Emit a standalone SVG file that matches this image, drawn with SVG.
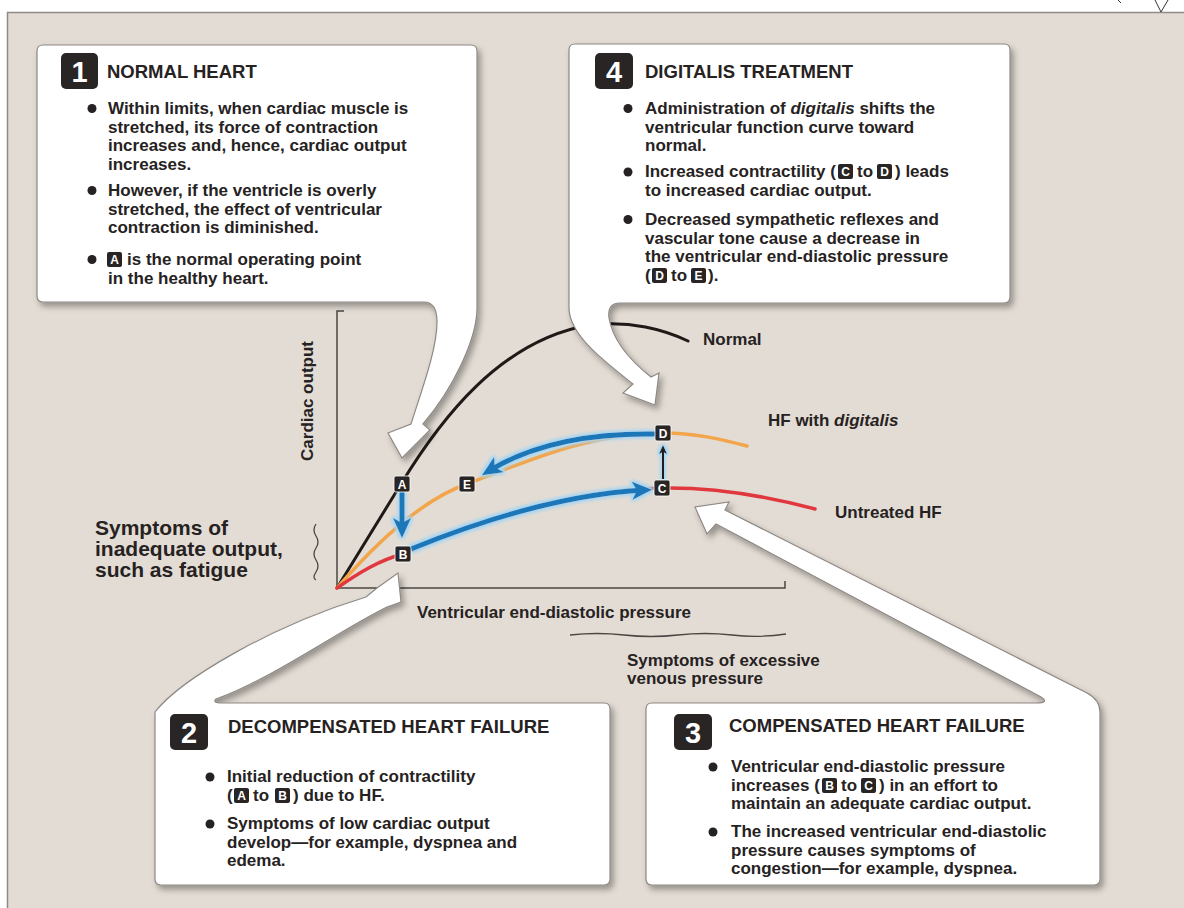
<svg xmlns="http://www.w3.org/2000/svg" width="1184" height="908" viewBox="0 0 1184 908">
<defs>
<style>
.t{font-family:"Liberation Sans",Arial,sans-serif;font-weight:bold;fill:#262222}
.b{font-size:17px}
.h{font-size:18.5px}
.l{font-size:21px}
.i{font-style:italic}
.box{fill:#ffffff;stroke:#8d8884;stroke-width:1.2}
.badge{fill:#2a2525}
.bn{font-family:"Liberation Sans",Arial,sans-serif;font-weight:bold;font-size:29px;fill:#ffffff;text-anchor:middle}
.chip{fill:#2a2525}
.ct{font-family:"Liberation Sans",Arial,sans-serif;font-weight:bold;font-size:12px;fill:#ffffff;text-anchor:middle}
.dot{fill:#262222}
.curve{fill:none;stroke-linecap:round}
.blue{fill:none;stroke:#1f77b8;stroke-width:5}
.sq{fill:none;stroke:#4a4542;stroke-width:1.3}
</style>
<filter id="sh" x="-15%" y="-15%" width="135%" height="140%">
<feDropShadow dx="3" dy="4" stdDeviation="3" flood-color="#000" flood-opacity="0.35"/>
</filter>
<filter id="glow" x="-20%" y="-20%" width="140%" height="140%">
<feMorphology operator="dilate" radius="2" in="SourceAlpha" result="d"/>
<feGaussianBlur in="d" stdDeviation="1.5" result="bl"/>
<feFlood flood-color="#a6d6f2"/>
<feComposite in2="bl" operator="in" result="g"/>
<feMerge><feMergeNode in="g"/><feMergeNode in="SourceGraphic"/></feMerge>
</filter>
<marker id="ab" markerUnits="userSpaceOnUse" markerWidth="22" markerHeight="20" refX="14" refY="9" orient="auto">
<path d="M0,0 L20,9 L0,18 L5,9 Z" fill="#1f77b8"/>
</marker>
<marker id="ak" markerUnits="userSpaceOnUse" markerWidth="10" markerHeight="10" refX="5" refY="4" orient="auto">
<path d="M0,0 L9,4 L0,8 L2,4 Z" fill="#231f20"/>
</marker>
</defs>

<rect x="0" y="0" width="1184" height="908" fill="#ffffff"/>
<rect x="7" y="12" width="1180" height="900" fill="#e3dcd4"/>
<path d="M7,12.5 H1184 M7.5,12 V908" stroke="#8f8a85" stroke-width="1.5" fill="none"/>
<polyline points="1155,0 1161,12 1168,0" fill="none" stroke="#333" stroke-width="1"/>
<line x1="1118" y1="0" x2="1121" y2="3" stroke="#333" stroke-width="1"/>

<g id="axes">
<path d="M344,311 H337 V588 H785 V581" fill="none" stroke="#4a4542" stroke-width="1.5"/>
<text class="t b" transform="translate(313,401) rotate(-90)" text-anchor="middle">Cardiac output</text>
<text class="t b" x="417" y="618">Ventricular end-diastolic pressure</text>
<path class="sq" d="M316,524 q -4,6 0,12 t 0,12 t 0,12 t 0,12 t 0,8"/>
<path class="sq" d="M570,635 q 27,-3 54,0 t 54,0 t 54,0 t 54,-1"/>
<text class="t b" x="627" y="666">Symptoms of excessive</text>
<text class="t b" x="627" y="684">venous pressure</text>
<text class="t l" x="95" y="535">Symptoms of</text>
<text class="t l" x="95" y="556">inadequate output,</text>
<text class="t l" x="95" y="577">such as fatigue</text>
</g>

<g id="curves">
<path class="curve" d="M337,588 L401,484 C440,420 500,340 590,325 C630,320 665,330 688,341" stroke="#1f1a17" stroke-width="3"/>
<path class="curve" d="M337,588 C370,550 420,500 467,484 C530,460 590,433 663,433 C695,433 720,439 747,446" stroke="#f2a54a" stroke-width="3.5"/>
<path class="curve" d="M337,588 C360,572 380,560 403,554 C480,520 580,490 662,488 C720,487 770,497 815,509" stroke="#e0383e" stroke-width="3.5"/>
<text class="t b" x="703" y="345">Normal</text>
<text class="t b" x="768" y="426">HF with <tspan class="i">digitalis</tspan></text>
<text class="t b" x="835" y="518">Untreated HF</text>
</g>

<g id="connectors" filter="url(#glow)">
<path class="blue" d="M402,492 L402,532" marker-end="url(#ab)"/>
<path class="blue" d="M411,549 C470,525 560,494 646,490" marker-end="url(#ab)"/>
<path class="blue" d="M655,434 C595,433 535,442 487,472" marker-end="url(#ab)"/>
<path d="M663,479 L663,449" fill="none" stroke="#231f20" stroke-width="2" marker-end="url(#ak)"/>
</g>

<g id="point-A"><rect class="chip" x="394" y="476" width="16" height="16" rx="2" stroke="#fff" stroke-width="0.8"/><text class="ct" x="402" y="488.5">A</text></g>
<g id="point-E"><rect class="chip" x="459" y="476" width="16" height="16" rx="2" stroke="#fff" stroke-width="0.8"/><text class="ct" x="467" y="488.5">E</text></g>
<g id="point-B"><rect class="chip" x="395" y="546" width="16" height="16" rx="2" stroke="#fff" stroke-width="0.8"/><text class="ct" x="403" y="558.5">B</text></g>
<g id="point-C"><rect class="chip" x="654" y="480" width="16" height="16" rx="2" stroke="#fff" stroke-width="0.8"/><text class="ct" x="662" y="492.5">C</text></g>
<g id="point-D"><rect class="chip" x="655" y="425" width="16" height="16" rx="2" stroke="#fff" stroke-width="0.8"/><text class="ct" x="663" y="437.5">D</text></g>

<g id="box1">
<path class="box" filter="url(#sh)" d="M43,45 H471 Q477,45 477,51 V308 C477,340 452,390 423,424 L430,430 L402,458 L388,433 L411,424 C421,392 437,350 437,322 Q437,302 424,302 H43 Q37,302 37,296 V51 Q37,45 43,45 Z"/>
<rect class="badge" x="61" y="53" width="37" height="36" rx="5"/>
<text class="bn" x="79.5" y="82">1</text>
<text class="t h" x="107" y="78">NORMAL HEART</text>
<circle class="dot" cx="92" cy="108.5" r="4.5"/>
<circle class="dot" cx="92" cy="190.5" r="4.5"/>
<circle class="dot" cx="92" cy="259.5" r="4.5"/>
<text class="t b" x="108" y="114">Within limits, when cardiac muscle is</text>
<text class="t b" x="108" y="132.5">stretched, its force of contraction</text>
<text class="t b" x="108" y="151">increases and, hence, cardiac output</text>
<text class="t b" x="108" y="169.5">increases.</text>
<text class="t b" x="108" y="196">However, if the ventricle is overly</text>
<text class="t b" x="108" y="214.5">stretched, the effect of ventricular</text>
<text class="t b" x="108" y="233">contraction is diminished.</text>
<rect class="chip" x="107" y="252" width="15" height="15" rx="2"/><text class="ct" x="114.5" y="264">A</text>
<text class="t b" x="127" y="265">is the normal operating point</text>
<text class="t b" x="108" y="283.5">in the healthy heart.</text>
</g>

<g id="box4">
<path class="box" filter="url(#sh)" d="M575,44 H1004 Q1010,44 1010,50 V297 Q1010,303 1004,303 H620 Q607,303 609,318 C613,342 632,362 651,377 L659,373 L655,405 L623,393 L633,384 C605,362 569,335 569,308 V50 Q569,44 575,44 Z"/>
<rect class="badge" x="595" y="53" width="38" height="36" rx="5"/>
<text class="bn" x="614" y="82">4</text>
<text class="t h" x="645" y="78">DIGITALIS TREATMENT</text>
<circle class="dot" cx="628" cy="108.5" r="4.5"/>
<circle class="dot" cx="628" cy="172" r="4.5"/>
<circle class="dot" cx="628" cy="219.5" r="4.5"/>
<text class="t b" x="645" y="114">Administration of <tspan class="i">digitalis</tspan> shifts the</text>
<text class="t b" x="645" y="132.5">ventricular function curve toward</text>
<text class="t b" x="645" y="151">normal.</text>
<text class="t b" x="645" y="177">Increased contractility (</text>
<rect class="chip" x="838" y="164" width="15" height="15" rx="2"/><text class="ct" x="845.5" y="176">C</text>
<text class="t b" x="857" y="177">to</text>
<rect class="chip" x="877" y="164" width="15" height="15" rx="2"/><text class="ct" x="884.5" y="176">D</text>
<text class="t b" x="895" y="177">) leads</text>
<text class="t b" x="645" y="196">to increased cardiac output.</text>
<text class="t b" x="645" y="225">Decreased sympathetic reflexes and</text>
<text class="t b" x="645" y="243.5">vascular tone cause a decrease in</text>
<text class="t b" x="645" y="262">the ventricular end-diastolic pressure</text>
<text class="t b" x="645" y="281">(</text>
<rect class="chip" x="652" y="268" width="15" height="15" rx="2"/><text class="ct" x="659.5" y="280">D</text>
<text class="t b" x="671" y="281">to</text>
<rect class="chip" x="691" y="268" width="15" height="15" rx="2"/><text class="ct" x="698.5" y="280">E</text>
<text class="t b" x="708" y="281">).</text>
</g>

<g id="box2">
<path class="box" filter="url(#sh)" d="M161,885 Q155,885 155,879 V712 C180,680 270,626 366,597 L377,588 L398,573 L401,602 L387,607 C340,630 270,680 216,699 Q212,703 222,703 H604 Q610,703 610,709 V879 Q610,885 604,885 Z"/>
<rect class="badge" x="170" y="714" width="38" height="36" rx="5"/>
<text class="bn" x="189" y="743">2</text>
<text class="t h" x="228" y="733">DECOMPENSATED HEART FAILURE</text>
<circle class="dot" cx="210" cy="777" r="4.5"/>
<circle class="dot" cx="210" cy="824" r="4.5"/>
<text class="t b" x="227" y="782">Initial reduction of contractility</text>
<text class="t b" x="227" y="801">(</text>
<rect class="chip" x="234" y="788" width="15" height="15" rx="2"/><text class="ct" x="241.5" y="800">A</text>
<text class="t b" x="253" y="801">to</text>
<rect class="chip" x="275" y="788" width="15" height="15" rx="2"/><text class="ct" x="282.5" y="800">B</text>
<text class="t b" x="293" y="801">) due to HF.</text>
<text class="t b" x="227" y="829">Symptoms of low cardiac output</text>
<text class="t b" x="227" y="848">develop—for example, dyspnea and</text>
<text class="t b" x="227" y="866">edema.</text>
</g>

<g id="box3">
<path class="box" filter="url(#sh)" d="M652,703 H1036 Q1050,703 1041,697 L716,524 L707,534 L695,507 L729,502 L725,510 L1087,693 Q1100,700 1100,712 V879 Q1100,885 1094,885 H652 Q646,885 646,879 V709 Q646,703 652,703 Z"/>
<rect class="badge" x="674" y="714" width="38" height="36" rx="5"/>
<text class="bn" x="693" y="743">3</text>
<text class="t h" x="729" y="732">COMPENSATED HEART FAILURE</text>
<circle class="dot" cx="713" cy="767" r="4.5"/>
<circle class="dot" cx="713" cy="832" r="4.5"/>
<text class="t b" x="731" y="772">Ventricular end-diastolic pressure</text>
<text class="t b" x="731" y="791">increases (</text>
<rect class="chip" x="822" y="778" width="15" height="15" rx="2"/><text class="ct" x="829.5" y="790">B</text>
<text class="t b" x="841" y="791">to</text>
<rect class="chip" x="861" y="778" width="15" height="15" rx="2"/><text class="ct" x="868.5" y="790">C</text>
<text class="t b" x="879" y="791">) in an effort to</text>
<text class="t b" x="731" y="809">maintain an adequate cardiac output.</text>
<text class="t b" x="731" y="837">The increased ventricular end-diastolic</text>
<text class="t b" x="731" y="856">pressure causes symptoms of</text>
<text class="t b" x="731" y="874">congestion—for example, dyspnea.</text>
</g>
</svg>
